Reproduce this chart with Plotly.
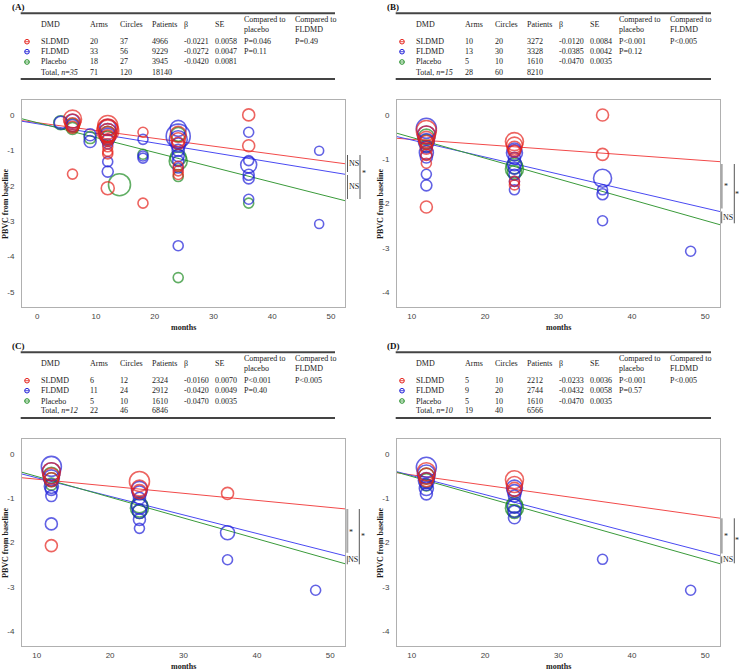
import numpy as np
import plotly.graph_objects as go

# ------------------------------------------------------------------ data
GROUPS = ["SLDMD", "FLDMD", "Placebo"]

# (months, PBVC from baseline, circle weight) per study arm/time point
A_SLDMD = [(6, -0.12, 16), (6, -0.2, 14), (6, -0.28, 12), (6, -0.35, 10), (6, -1.67, 8),
           (12, -0.45, 20), (12, -0.3, 18), (12, -0.4, 18), (12, -0.5, 16), (12, -0.55, 14),
           (12, -0.62, 12), (12, -0.7, 10), (12, -0.9, 8), (12, -1.03, 8), (12, -1.1, 8),
           (12, -2.07, 11), (18, -0.49, 8), (18, -2.49, 8),
           (24, -0.55, 14), (24, -0.7, 12), (24, -0.8, 10), (24, -1.45, 8), (24, -1.58, 8),
           (24, -1.68, 8), (36, 0.0, 10), (36, -0.87, 10)]
A_FLDMD = [(4, -0.22, 11), (6, -0.18, 12), (6, -0.3, 10), (9, -0.56, 10), (9, -0.75, 10),
           (12, -0.35, 14), (12, -0.5, 16), (12, -0.6, 14), (12, -0.72, 10), (12, -0.82, 8),
           (12, -1.32, 8), (12, -1.6, 9), (18, -0.69, 8), (18, -1.16, 8), (18, -1.22, 8),
           (24, -0.38, 14), (24, -0.6, 22), (24, -0.7, 16), (24, -0.85, 12), (24, -1.0, 10),
           (24, -1.15, 10), (24, -1.3, 9), (24, -1.5, 8), (24, -3.69, 8),
           (36, -0.49, 8), (36, -1.29, 8), (36, -1.41, 14), (36, -1.69, 9), (36, -1.79, 9),
           (36, -2.38, 8), (48, -1.01, 7), (48, -3.08, 7)]
A_PLACEBO = [(4, -0.22, 12), (6, -0.3, 12), (6, -0.38, 10), (9, -0.64, 10),
             (12, -0.55, 14), (12, -0.65, 12), (14, -1.97, 20), (18, -1.11, 8),
             (24, -0.55, 12), (24, -1.2, 14), (24, -1.3, 16), (24, -1.74, 8), (24, -4.59, 8),
             (36, -2.49, 8)]

B_SLDMD = [(12, -0.35, 18), (12, -0.45, 16), (12, -0.55, 14), (12, -0.62, 12), (12, -0.75, 10),
           (12, -0.9, 9), (12, -1.09, 8), (12, -2.08, 10),
           (24, -0.6, 16), (24, -0.68, 14), (24, -0.75, 12), (24, -0.82, 10), (24, -1.5, 8),
           (24, -1.58, 8), (36, 0.0, 10), (36, -0.89, 10)]
B_FLDMD = [(12, -0.3, 18), (12, -0.45, 16), (12, -0.6, 14), (12, -0.72, 10), (12, -0.85, 12),
           (12, -0.95, 10), (12, -1.34, 8), (12, -1.59, 9),
           (24, -0.79, 12), (24, -0.85, 14), (24, -0.98, 10), (24, -1.1, 12), (24, -1.2, 10),
           (24, -1.35, 9), (24, -1.5, 8), (24, -1.69, 8),
           (36, -1.43, 16), (36, -1.69, 8), (36, -1.79, 9), (36, -2.39, 8), (48, -3.08, 8)]
B_PLACEBO = [(12, -0.5, 14), (12, -0.6, 12), (12, -0.7, 10),
             (24, -1.15, 14), (24, -1.22, 16), (24, -1.3, 12)]

C_SLDMD = [(12, -0.4, 16), (12, -0.5, 14), (12, -0.58, 12), (12, -2.07, 10),
           (24, -0.62, 18), (24, -0.77, 14), (24, -0.85, 12), (36, -0.89, 10)]
C_FLDMD = [(12, -0.28, 18), (12, -0.4, 16), (12, -0.54, 14), (12, -0.73, 12), (12, -0.8, 10),
           (12, -0.95, 9), (12, -1.58, 10),
           (24, -0.8, 14), (24, -0.88, 12), (24, -1.0, 10), (24, -1.18, 14), (24, -1.3, 12),
           (24, -1.48, 10), (24, -1.68, 8), (36, -1.78, 12), (36, -2.39, 8), (48, -3.08, 8)]
C_PLACEBO = [(12, -0.48, 14), (12, -0.58, 12), (12, -0.68, 10),
             (24, -1.15, 14), (24, -1.22, 16), (24, -1.3, 12)]

D_SLDMD = [(12, -0.4, 16), (12, -0.5, 14), (12, -0.58, 12),
           (24, -0.58, 16), (24, -0.69, 14), (24, -0.8, 12)]
D_FLDMD = [(12, -0.3, 18), (12, -0.45, 16), (12, -0.6, 14), (12, -0.69, 10), (12, -0.78, 12),
           (12, -0.9, 10), (24, -0.77, 14), (24, -0.85, 12), (24, -0.95, 10), (24, -1.18, 12),
           (24, -1.3, 10), (24, -1.44, 10), (36, -2.38, 8), (48, -3.08, 8)]
D_PLACEBO = [(12, -0.5, 14), (12, -0.6, 12), (12, -0.7, 10),
             (24, -1.15, 14), (24, -1.22, 16), (24, -1.3, 12)]

# table values
A_ARMS = [20, 33, 18, 71]; A_CIRCLES = [37, 56, 27, 120]; A_PATIENTS = [4966, 9229, 3945, 18140]
A_BETA = [-0.0221, -0.0272, -0.0420]; A_SE = [0.0058, 0.0047, 0.0081]
A_VS_PLACEBO = ["P=0.046", "P=0.11", ""]; A_VS_FLDMD = ["P=0.49", "", ""]; A_N = 35
A_INTERCEPT = [-0.22, -0.25, -0.22]

B_ARMS = [10, 13, 5, 28]; B_CIRCLES = [20, 30, 10, 60]; B_PATIENTS = [3272, 3328, 1610, 8210]
B_BETA = [-0.0120, -0.0385, -0.0470]; B_SE = [0.0084, 0.0042, 0.0035]
B_VS_PLACEBO = ["P<0.001", "P=0.12", ""]; B_VS_FLDMD = ["P<0.005", "", ""]; B_N = 15
B_INTERCEPT = [-0.43, -0.18, -0.036]

C_ARMS = [6, 11, 5, 22]; C_CIRCLES = [12, 24, 10, 46]; C_PATIENTS = [2324, 2912, 1610, 6846]
C_BETA = [-0.0160, -0.0420, -0.0470]; C_SE = [0.0070, 0.0049, 0.0035]
C_VS_PLACEBO = ["P<0.001", "P=0.40", ""]; C_VS_FLDMD = ["P<0.005", "", ""]; C_N = 12
C_INTERCEPT = [-0.408, -0.116, -0.036]

D_ARMS = [5, 9, 5, 19]; D_CIRCLES = [10, 20, 10, 40]; D_PATIENTS = [2212, 2744, 1610, 6566]
D_BETA = [-0.0233, -0.0432, -0.0470]; D_SE = [0.0036, 0.0058, 0.0035]
D_VS_PLACEBO = ["P<0.001", "P=0.57", ""]; D_VS_FLDMD = ["P<0.005", "", ""]; D_N = 10
D_INTERCEPT = [-0.238, -0.054, -0.036]

A_XRANGE = [-2.6, 52.4]; A_YRANGE = [-5.42, 0.42]
BCD_XRANGE = [8, 52]; BCD_YRANGE = [-4.34, 0.34]
A_XTICKS = [0, 10, 20, 30, 40, 50]; A_YTICKS = [0, -1, -2, -3, -4, -5]
A_YTICKTEXT = ["0", "-1", "-2", "-3", "-4", "-5"]
BCD_XTICKS = [10, 20, 30, 40, 50]; BCD_YTICKS = [0, -1, -2, -3, -4]
BCD_YTICKTEXT = ["0", "-1", "-2", "-3", "-4"]

# ------------------------------------------------------------------ styling
W, H = 739, 670
def px(x): return x / W
def py(y): return 1 - y / H

MARK = {"SLDMD": "#e5221c", "FLDMD": "#2020d8", "Placebo": "#1e8c22"}
LINE = {"SLDMD": "#f24a4a", "FLDMD": "#4a4af2", "Placebo": "#3a9a3a"}
SERIF = "Liberation Serif"
SANS = "Liberation Sans"
SIZE_PAD = 2

panels = [
    dict(label="(A)", pts=[A_SLDMD, A_FLDMD, A_PLACEBO], beta=A_BETA, icpt=A_INTERCEPT,
         arms=A_ARMS, circ=A_CIRCLES, pat=A_PATIENTS, se=A_SE, vp=A_VS_PLACEBO, vf=A_VS_FLDMD, n=A_N,
         xr=A_XRANGE, yr=A_YRANGE, xt=A_XTICKS, yt=A_YTICKS, ytt=A_YTICKTEXT, dx=0, dy=0),
    dict(label="(B)", pts=[B_SLDMD, B_FLDMD, B_PLACEBO], beta=B_BETA, icpt=B_INTERCEPT,
         arms=B_ARMS, circ=B_CIRCLES, pat=B_PATIENTS, se=B_SE, vp=B_VS_PLACEBO, vf=B_VS_FLDMD, n=B_N,
         xr=BCD_XRANGE, yr=BCD_YRANGE, xt=BCD_XTICKS, yt=BCD_YTICKS, ytt=BCD_YTICKTEXT, dx=375, dy=0),
    dict(label="(C)", pts=[C_SLDMD, C_FLDMD, C_PLACEBO], beta=C_BETA, icpt=C_INTERCEPT,
         arms=C_ARMS, circ=C_CIRCLES, pat=C_PATIENTS, se=C_SE, vp=C_VS_PLACEBO, vf=C_VS_FLDMD, n=C_N,
         xr=BCD_XRANGE, yr=BCD_YRANGE, xt=BCD_XTICKS, yt=BCD_YTICKS, ytt=BCD_YTICKTEXT, dx=0, dy=339),
    dict(label="(D)", pts=[D_SLDMD, D_FLDMD, D_PLACEBO], beta=D_BETA, icpt=D_INTERCEPT,
         arms=D_ARMS, circ=D_CIRCLES, pat=D_PATIENTS, se=D_SE, vp=D_VS_PLACEBO, vf=D_VS_FLDMD, n=D_N,
         xr=BCD_XRANGE, yr=BCD_YRANGE, xt=BCD_XTICKS, yt=BCD_YTICKS, ytt=BCD_YTICKTEXT, dx=375, dy=339),
]

brackets = [
    dict(ix=347.5, ox=360, top=155, mid=173.5, bot=199, up="NS", upy=163.5, lo="NS", loy=187,
         oy=173, star_x=363.5, lab_x=353.5, upx=353.5, col_in="#555555", w_in=1),
    dict(ix=721.7, ox=734.3, top=164, mid=210, bot=223.3, up="*", upy=186, lo="NS", loy=217.5,
         oy=194, star_x=737.0, lab_x=728, upx=725.5, col_in="#a8a8a8", w_in=2),
    dict(ix=347.3, ox=359.3, top=509, mid=554.3, bot=564.3, up="*", upy=532, lo="NS", loy=559.5,
         oy=536.5, star_x=363.3, lab_x=353.3, upx=351, col_in="#a8a8a8", w_in=2),
    dict(ix=721.7, ox=734.3, top=518.3, mid=555, bot=563.3, up="*", upy=536.5, lo="NS", loy=559.5,
         oy=540, star_x=737.0, lab_x=728, upx=725.5, col_in="#a8a8a8", w_in=2),
]

fig = go.Figure()
layout = dict(width=W, height=H, margin=dict(l=0, r=0, t=0, b=0),
              paper_bgcolor="white", plot_bgcolor="white", showlegend=False)
annotations = []
shapes = []
TXT = dict(family=SERIF, size=8, color="#1a1a1a")


def note(x, y, text, xanchor="center", yanchor="middle", **kw):
    d = dict(x=px(x), y=py(y), xref="paper", yref="paper", text=text, showarrow=False,
             xanchor=xanchor, yanchor=yanchor, font=kw.pop("font", TXT))
    d.update(kw)
    annotations.append(d)


for k, p in enumerate(panels):
    sfx = "" if k == 0 else str(k + 1)
    xa, ya = "x" + sfx, "y" + sfx
    dx, dy = p["dx"], p["dy"]
    x0, x1 = 22 + dx, 345 + dx
    y0, y1 = 100 + dy, 307 + dy
    axis_common = dict(showline=True, linecolor="#b0b0b0", linewidth=1, mirror=True,
                       showgrid=False, zeroline=False, ticks="",
                       tickfont=dict(family=SANS, size=8, color="#444444"))
    layout["xaxis" + sfx] = dict(axis_common, domain=[px(x0), px(x1)], range=p["xr"],
                                 tickvals=p["xt"], anchor=ya, ticklabelstandoff=1)
    layout["yaxis" + sfx] = dict(axis_common, domain=[py(y1), py(y0)], range=p["yr"],
                                 tickvals=p["yt"], ticktext=p["ytt"], anchor=xa,
                                 ticklabelstandoff=5)

    xs = np.array(p["xr"], dtype=float)
    for g, gname in enumerate(GROUPS):
        fig.add_trace(go.Scatter(x=xs, y=p["icpt"][g] + p["beta"][g] * xs, mode="lines",
                                 line=dict(color=LINE[gname], width=1), xaxis=xa, yaxis=ya,
                                 hoverinfo="skip"))
    for g in [2, 1, 0]:
        gname = GROUPS[g]
        pts = p["pts"][g]
        fig.add_trace(go.Scatter(x=[t[0] for t in pts], y=[t[1] for t in pts], mode="markers",
                                 marker=dict(symbol="circle-open",
                                             size=[t[2] + SIZE_PAD for t in pts],
                                             color=MARK[gname], line=dict(width=1.6, color=MARK[gname])),
                                 xaxis=xa, yaxis=ya, name=gname))

    note(5.5 + dx, (y0 + y1) / 2, "<b>PBVC from baseline</b>", textangle=-90)
    note((x0 + x1) / 2, 327 + dy, "<b>months</b>")
    note(10 + dx, 0 + dy, "<b>" + p["label"] + "</b>", xanchor="left", yanchor="top",
         font=dict(family=SERIF, size=9, color="#111"))

    tx0, tx1 = 20.7 + dx, 335 + dx + (0 if dx == 0 else 1)
    for yy in (13.3, 79):
        shapes.append(dict(type="line", xref="paper", yref="paper", x0=px(tx0), x1=px(tx1),
                           y0=py(yy + dy), y1=py(yy + dy), line=dict(color="#444", width=2)))
    cols = [39, 88, 118, 150, 182, 213, 242, 293]
    heads = ["DMD", "Arms", "Circles", "Patients", "β", "SE", "Compared to<br>placebo",
             "Compared to<br>FLDMD"]
    for c, h in zip(cols, heads):
        note(c + dx, 25 + dy, h, xanchor="left", align="left")
    rows_y = [41.7, 51.7, 62, 72]
    for r in range(4):
        if r < 3:
            cells = [GROUPS[r], str(p["arms"][r]), str(p["circ"][r]), str(p["pat"][r]),
                     f"{p['beta'][r]:.4f}", f"{p['se'][r]:.4f}", p["vp"][r], p["vf"][r]]
        else:
            cells = [f"Total, <i>n</i>=<i>{p['n']}</i>", str(p["arms"][r]), str(p["circ"][r]),
                     str(p["pat"][r]), "", "", "", ""]
        for c, t in zip(cols, cells):
            if t:
                note(c + dx, rows_y[r] + dy, t, xanchor="left")
        if r < 3:
            col = MARK[GROUPS[r]]
            cx, cy = 27 + dx, rows_y[r] + dy
            shapes.append(dict(type="circle", xref="paper", yref="paper",
                               x0=px(cx - 2.3), x1=px(cx + 2.3), y0=py(cy + 2.3), y1=py(cy - 2.3),
                               line=dict(color=col, width=1), fillcolor="rgba(255,255,255,0)"))
            shapes.append(dict(type="line", xref="paper", yref="paper",
                               x0=px(cx - 2.3), x1=px(cx + 2.3), y0=py(cy), y1=py(cy),
                               line=dict(color=col, width=0.8)))

    b = brackets[k]
    shapes.append(dict(type="line", xref="paper", yref="paper", x0=px(b["ix"]), x1=px(b["ix"]),
                       y0=py(b["top"]), y1=py(b["mid"] - 1.5), line=dict(color=b["col_in"], width=b["w_in"])))
    shapes.append(dict(type="line", xref="paper", yref="paper", x0=px(b["ix"]), x1=px(b["ix"]),
                       y0=py(b["mid"] + 1.5), y1=py(b["bot"]), line=dict(color="#666", width=1)))
    shapes.append(dict(type="line", xref="paper", yref="paper", x0=px(b["ox"]), x1=px(b["ox"]),
                       y0=py(b["top"]), y1=py(b["bot"]), line=dict(color="#555", width=1)))
    note(b["upx"], b["upy"], b["up"])
    note(b["lab_x"], b["loy"], b["lo"])
    note(b["star_x"], b["oy"], "*")

layout["annotations"] = annotations
layout["shapes"] = shapes
fig.update_layout(**layout)
fig.write_html("out.html", config={"displayModeBar": False},
               post_script="document.body.style.margin='0px';document.body.style.overflow='hidden';")
